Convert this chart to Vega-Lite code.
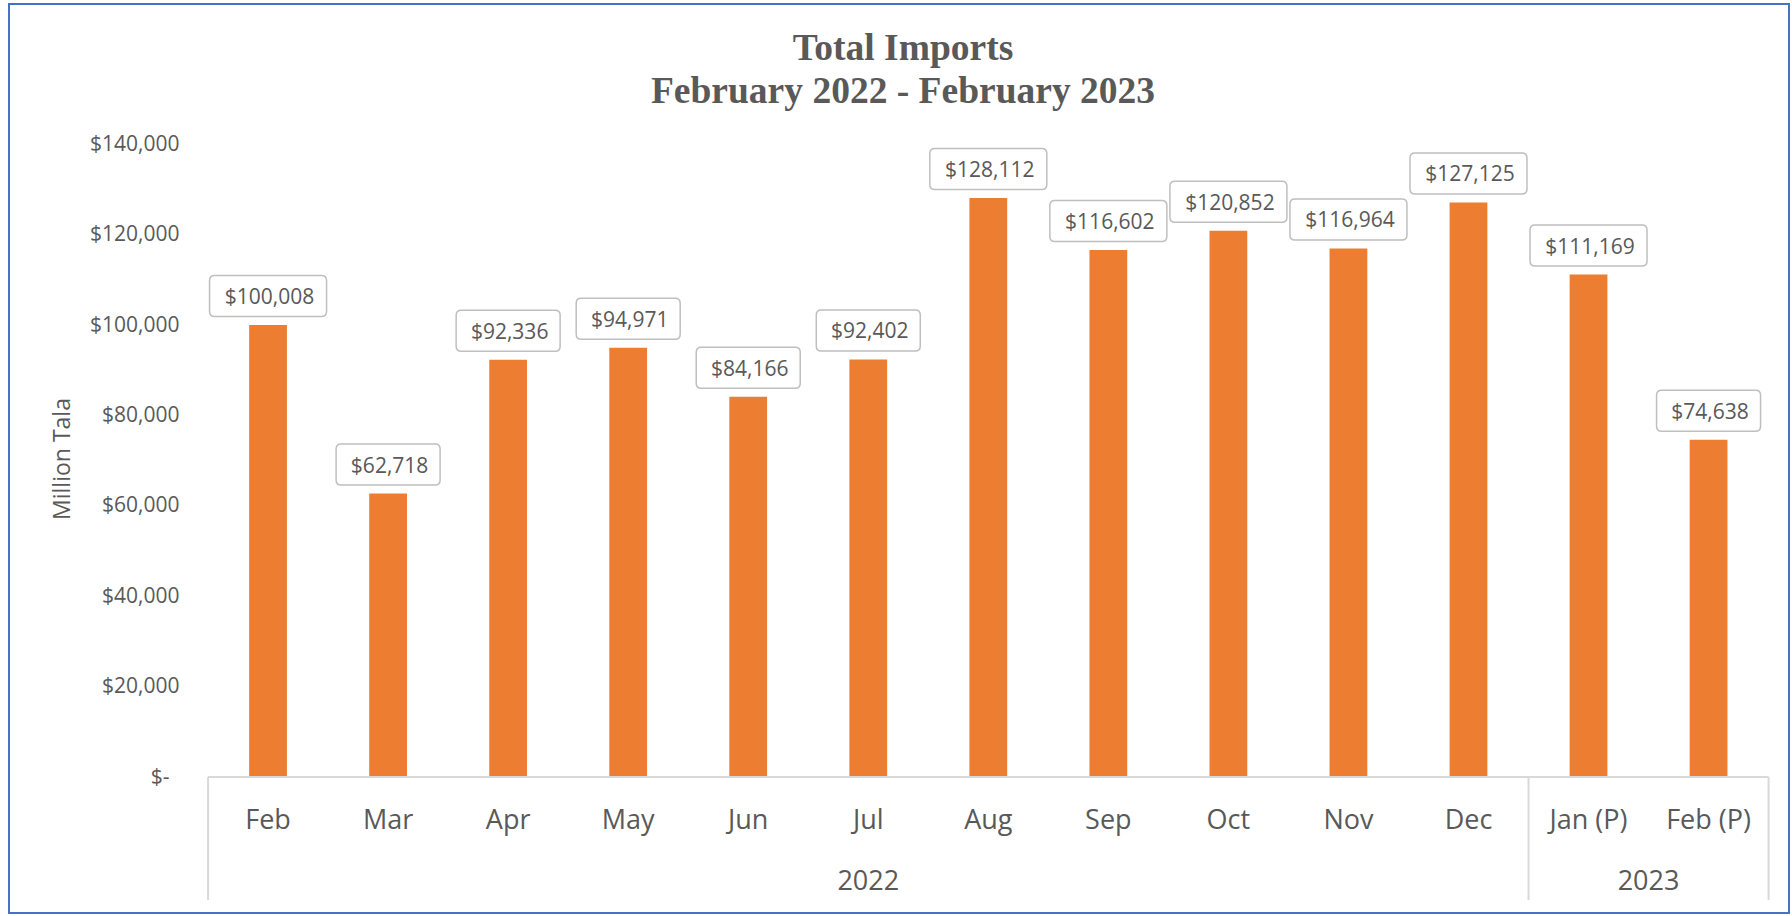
{
  "$schema": "https://vega.github.io/schema/vega-lite/v6.json",
  "width": 1780,
  "height": 909,
  "autosize": {"type": "none"},
  "padding": {"left": 9, "top": 4, "right": 3, "bottom": 3},
  "background": "white",
  "title": {
    "text": ["Total Imports", "February 2022 - February 2023"],
    "font": "Liberation Serif",
    "fontSize": 37.5,
    "fontWeight": "bold",
    "color": "#595959",
    "anchor": "middle",
    "lineHeight": 43,
    "offset": -106,
    "dx": 4
  },
  "config": {
    "view": {"stroke": "#4472C4", "strokeWidth": 2},
    "font": "Open Sans"
  },
  "datasets": {
    "imports": [
      {"month": "Feb", "year": "2022", "value": 100008},
      {"month": "Mar", "year": "2022", "value": 62718},
      {"month": "Apr", "year": "2022", "value": 92336},
      {"month": "May", "year": "2022", "value": 94971},
      {"month": "Jun", "year": "2022", "value": 84166},
      {"month": "Jul", "year": "2022", "value": 92402},
      {"month": "Aug", "year": "2022", "value": 128112},
      {"month": "Sep", "year": "2022", "value": 116602},
      {"month": "Oct", "year": "2022", "value": 120852},
      {"month": "Nov", "year": "2022", "value": 116964},
      {"month": "Dec", "year": "2022", "value": 127125},
      {"month": "Jan (P)", "year": "2023", "value": 111169},
      {"month": "Feb (P)", "year": "2023", "value": 74638}
    ]
  },
  "encoding": {
    "x": {
      "field": "month",
      "type": "nominal",
      "sort": null,
      "axis": null,
      "scale": {
        "type": "band",
        "domain": ["Feb", "Mar", "Apr", "May", "Jun", "Jul", "Aug", "Sep", "Oct", "Nov", "Dec", "Jan (P)", "Feb (P)"],
        "paddingInner": 0.172,
        "paddingOuter": 1,
        "align": 0.872
      }
    }
  },
  "layer": [
    {
      "data": {"name": "imports"},
      "mark": {"type": "bar", "color": "#ED7D31", "width": {"band": 0.38}},
      "encoding": {
        "y": {
          "field": "value",
          "type": "quantitative",
          "scale": {"domain": [-30093, 171044], "nice": false, "zero": false},
          "axis": {
            "title": "Million Tala",
            "values": [0, 20000, 40000, 60000, 80000, 100000, 120000, 140000],
            "labelExpr": "datum.value === 0 ? '$-' : '$' + format(datum.value, ',')",
            "domain": false,
            "ticks": false,
            "tickSize": 0,
            "grid": false,
            "offset": -198,
            "labelPadding": {"condition": {"test": "datum.value === 0", "value": 38}, "value": 28},
            "labelFontSize": 21,
            "labelColor": "#595959",
            "labelFont": "Open Sans",
            "titleFont": "Open Sans",
            "titleFontSize": 23,
            "titleFontWeight": "normal",
            "titleColor": "#595959",
            "titlePadding": 15
          }
        },
        "y2": {"datum": 0}
      }
    },
    {
      "data": {"values": [{"month": "Feb", "to": "Feb (P)"}]},
      "mark": {"type": "rule", "color": "#D9D9D9", "strokeWidth": 2, "xOffset": -60, "x2Offset": 60},
      "encoding": {
        "x2": {"field": "to"},
        "y": {"datum": 0, "type": "quantitative"}
      }
    },
    {
      "data": {"values": [{"month": "Feb"}, {"month": "Jan (P)"}]},
      "mark": {"type": "rule", "color": "#D9D9D9", "strokeWidth": 2, "xOffset": -60, "y2Offset": 123},
      "encoding": {
        "y": {"datum": 0, "type": "quantitative"},
        "y2": {"datum": 0}
      }
    },
    {
      "data": {"values": [{"month": "Feb (P)"}]},
      "mark": {"type": "rule", "color": "#D9D9D9", "strokeWidth": 2, "xOffset": 60, "y2Offset": 123},
      "encoding": {
        "y": {"datum": 0, "type": "quantitative"},
        "y2": {"datum": 0}
      }
    },
    {
      "data": {"name": "imports"},
      "mark": {
        "type": "point",
        "filled": true,
        "fill": "white",
        "stroke": "#BFBFBF",
        "strokeWidth": 1.5,
        "opacity": 1,
        "size": 10000,
        "yOffset": -29
      },
      "encoding": {
        "y": {"field": "value", "type": "quantitative"},
        "shape": {
          "condition": {
            "test": "datum.value >= 100000",
            "value": "M -1.07 -0.41 L 1.07 -0.41 Q 1.17 -0.41 1.17 -0.31 L 1.17 0.31 Q 1.17 0.41 1.07 0.41 L -1.07 0.41 Q -1.17 0.41 -1.17 0.31 L -1.17 -0.31 Q -1.17 -0.41 -1.07 -0.41 Z"
          },
          "value": "M -0.94 -0.41 L 0.94 -0.41 Q 1.04 -0.41 1.04 -0.31 L 1.04 0.31 Q 1.04 0.41 0.94 0.41 L -0.94 0.41 Q -1.04 0.41 -1.04 0.31 L -1.04 -0.31 Q -1.04 -0.41 -0.94 -0.41 Z"
        }
      }
    },
    {
      "data": {"name": "imports"},
      "mark": {
        "type": "text",
        "font": "Open Sans",
        "fontSize": 21,
        "color": "#595959",
        "baseline": "alphabetic",
        "align": "center",
        "yOffset": -21,
        "dx": 1.5
      },
      "encoding": {
        "y": {"field": "value", "type": "quantitative"},
        "text": {"field": "value", "type": "quantitative", "format": "$,"}
      }
    },
    {
      "data": {"name": "imports"},
      "mark": {
        "type": "text",
        "font": "Open Sans",
        "fontSize": 27,
        "color": "#595959",
        "baseline": "alphabetic",
        "align": "center",
        "yOffset": 52
      },
      "encoding": {
        "y": {"datum": 0, "type": "quantitative"},
        "text": {"field": "month", "type": "nominal"}
      }
    },
    {
      "data": {"values": [{"month": "Jul", "year": "2022"}]},
      "mark": {
        "type": "text",
        "font": "Open Sans",
        "fontSize": 27,
        "color": "#595959",
        "baseline": "alphabetic",
        "align": "center",
        "yOffset": 113
      },
      "encoding": {
        "y": {"datum": 0, "type": "quantitative"},
        "text": {"field": "year", "type": "nominal"}
      }
    },
    {
      "data": {"values": [{"month": "Jan (P)", "year": "2023"}]},
      "mark": {
        "type": "text",
        "font": "Open Sans",
        "fontSize": 27,
        "color": "#595959",
        "baseline": "alphabetic",
        "align": "center",
        "yOffset": 113,
        "xOffset": 60
      },
      "encoding": {
        "y": {"datum": 0, "type": "quantitative"},
        "text": {"field": "year", "type": "nominal"}
      }
    }
  ]
}
